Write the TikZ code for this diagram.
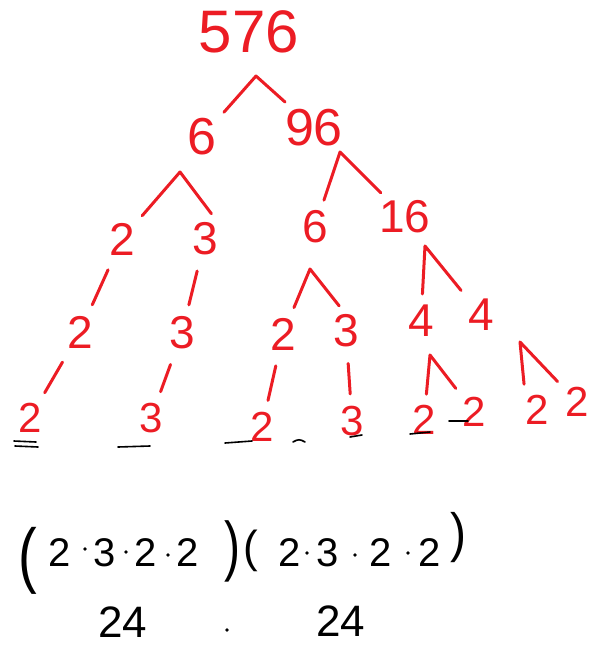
\documentclass[tikz,border=0pt]{standalone}
\usepackage{fontspec}
\setmainfont{Liberation Sans}
\definecolor{ink}{RGB}{236,28,36}
\tikzset{
  num/.style={text=ink, inner sep=0pt, font=\fontsize{46}{46}\selectfont},
  topnum/.style={num, font=\fontsize{60}{60}\selectfont},
  midnum/.style={num, font=\fontsize{52}{52}\selectfont},
  leaf/.style={num, font=\fontsize{42}{42}\selectfont},
  prod/.style={inner sep=0pt, font=\fontsize{40}{40}\selectfont},
  dotsym/.style={circle, fill=black, inner sep=0pt, minimum size=3.6pt},
  paren/.style={inner sep=0pt, font=\fontsize{40}{40}\selectfont},
  branch/.style={draw=ink, line width=3pt, line cap=round, line join=round, shorten <=11pt, shorten >=11pt},
  stem/.style={branch, shorten <=16pt, shorten >=12pt},
  tick/.style={draw=black, line width=1.6pt, line cap=round}
}

\begin{document}
\begin{tikzpicture}[x=1pt, y=-1pt]
\useasboundingbox (0,0) rectangle (591,648);

\node[topnum] (n576) at (249,32) {576};
\node[midnum] (n6) at (202,137) {6};
\node[midnum] (n96) at (314,128) {96};

\node[num] (n2a) at (122,239) {2};
\node[num] (n3a) at (205,239) {3};
\node[num] (n6b) at (315,227) {6};
\node[num] (n16) at (405,217) {16};

\node[num] (n2b) at (80,332) {2};
\node[num] (n3b) at (182,333) {3};
\node[num] (n2c) at (283,334) {2};
\node[num] (n3c) at (346,331) {3};
\node[num] (n4a) at (421,321) {4};
\node[num] (n4b) at (481,315) {4};

\node[leaf] (f1) at (30,418) {2};
\node[leaf] (f2) at (151,418) {3};
\node[leaf] (f3) at (262,427) {2};
\node[leaf] (f4) at (352,421) {3};
\node[leaf] (f5) at (424,420) {2};
\node[leaf] (f6) at (474,412) {2};
\node[leaf] (f7) at (537,410) {2};
\node[leaf] (f8) at (577,402) {2};

\coordinate (a576) at (256,76);
\coordinate (a6) at (180,172);
\coordinate (a96) at (340,152);
\coordinate (a6b) at (310,269);
\coordinate (a16) at (425,246);
\coordinate (a4a) at (430,355);
\coordinate (a4b) at (520,342);

\draw[branch] (n6) -- (a576) -- (n96);
\draw[branch] (n2a) -- (a6) -- (n3a.north east);
\draw[branch] (n6b) -- (a96) -- (n16);
\draw[branch] (n2c) -- (a6b) -- (n3c.north);
\draw[branch] (n4a) -- (a16) -- (n4b);
\draw[branch] (f5) -- (a4a) -- (f6);
\draw[branch] (f7.north west) -- (a4b) -- (f8);

\draw[stem] (n2a) -- (n2b);
\draw[stem] (n3a) -- (n3b);
\draw[stem] (n2b) -- (f1);
\draw[stem] (n3b) -- (f2);
\draw[stem] (n2c) -- (f3);
\draw[stem] (n3c) -- (f4);

\draw[tick] ([shift={(-16,23)}]f1.center) -- ++(22,1);
\draw[tick] ([shift={(-15,28)}]f1.center) -- ++(23,1);
\draw[tick] ([shift={(-33,29)}]f2.center) -- ++(32,-1);
\draw[tick] ([shift={(-37,16)}]f3.center) -- ++(27,-2);
\draw[tick, rounded corners=3pt] ([shift={(-59,21)}]f4.center) -- ++(6,-3) -- ++(6,3);
\draw[tick] ([shift={(-2,16)}]f4.center) -- ++(12,-2);
\draw[tick] ([shift={(-14,14)}]f5.center) -- ++(20,-2);
\draw[tick] ([shift={(-25,9)}]f6.center) -- ++(19,0);

\node[paren] (lp1) at (28,561) {\scalebox{1.4}[1.8]{(}};
\node[paren] (rp1) at (232,551) {\scalebox{1.2}[1.65]{)}};
\node[paren] (lp2) at (251,551) {\scalebox{1.1}[1.12]{(}};
\node[paren] (rp2) at (458,538) {\scalebox{1.2}[1.35]{)}};

\foreach \x/\c [count=\i] in {60/2,105/3,146/2,188/2,290/2,328/3,381/2,430/2}
  \node[prod] (d\i) at (\x,553) {\c};
\foreach \x/\y [count=\i] in {85/549,126/552,168/555,307/553,355/555,408/553}
  \node[dotsym] (m\i) at (\x,\y) {};

\node[prod, font=\fontsize{44}{44}\selectfont] (s1) at (123,622) {24};
\node[dotsym] (s0) at (227,630) {};
\node[prod, font=\fontsize{44}{44}\selectfont] (s2) at (341,621) {24};
\end{tikzpicture}
\end{document}
